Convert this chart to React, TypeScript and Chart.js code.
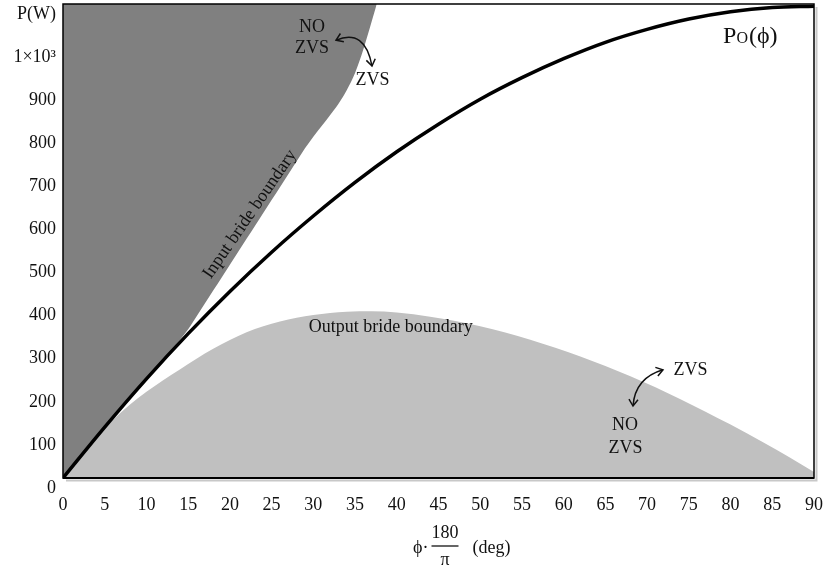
import React, { useEffect, useRef } from "react";
import { Chart, registerables } from "chart.js";

Chart.register(...registerables);

// ---- Data ----
const poPhi = [0, 5, 10, 15, 20, 25, 30, 35, 40, 45, 50, 55, 60, 65, 70, 75, 80, 85, 90];
const poPower = [0, 118, 230, 335, 433, 524, 608, 686, 757, 821, 879, 929, 973, 1011, 1041, 1065, 1082, 1092, 1095];

const inputBoundaryPhi = [0, 5, 10, 13, 14, 15, 16, 17, 18, 19, 20, 21, 22, 23, 24, 25, 26, 27, 28, 29, 30, 31, 32, 33, 34, 35, 36, 37, 37.6];
const inputBoundaryPower = [0, 121, 233, 296, 320, 345, 375, 405, 435, 465, 495, 525, 555, 585, 615, 645, 675, 705, 735, 765, 792, 817, 842, 868, 900, 940, 995, 1060, 1100];

const outputBoundaryPhi = [0, 2, 4, 6, 8, 10, 12, 14, 16, 18, 20, 22, 24, 26, 28, 30, 32, 34, 37, 40, 44, 50, 56, 62, 68, 74, 77, 80, 84, 87, 90];
const outputBoundaryPower = [0, 48, 95, 135, 170, 200, 227, 252, 277, 300, 320, 338, 352, 363, 372, 378, 383, 386, 387, 384, 374, 352, 321, 282, 236, 183, 154, 124, 82, 49, 14];

const yTickValues = [0, 100, 200, 300, 400, 500, 600, 700, 800, 900, 1000, 1100];
const yTickLabels = ["0", "100", "200", "300", "400", "500", "600", "700", "800", "900", "1×10³", "P(W)"];

const xMin = 0;
const xMax = 90;
const xStep = 5;
const yMax = 1100;

// annotations in data units: [text, phi, power]
const textNotes: [string, number, number][] = [
  ["NO", 29.84, 1047],
  ["ZVS", 29.84, 998],
  ["ZVS", 37.09, 924],
  ["Output bride boundary", 39.28, 350],
  ["ZVS", 75.2, 251],
  ["NO", 67.35, 123],
  ["ZVS", 67.41, 70],
];
// arrows: start(phi,power), control, end
const arrowNotes: [number, number, number, number, number, number][] = [
  [32.72, 1016, 36.19, 1044, 37.03, 956],
  [71.9, 251, 68.55, 232, 68.31, 167],
];
const inputLabel = { text: "Input bride boundary", phi: 22.41, power: 612, angleDeg: -55.5 };
const poLabel = { phi: 79.1, power: 1009 };

const SERIF = '"Liberation Serif", "DejaVu Serif", serif';

function toXY(xs: number[], ys: number[]) {
  return xs.map((x, i) => ({ x, y: ys[i] }));
}

function drawArrowHead(ctx: CanvasRenderingContext2D, tx: number, ty: number, fx: number, fy: number) {
  const ang = Math.atan2(ty - fy, tx - fx);
  const len = 8;
  const spread = 0.6;
  ctx.beginPath();
  ctx.moveTo(tx - len * Math.cos(ang - spread), ty - len * Math.sin(ang - spread));
  ctx.lineTo(tx, ty);
  ctx.lineTo(tx - len * Math.cos(ang + spread), ty - len * Math.sin(ang + spread));
  ctx.stroke();
}

const overlayPlugin = {
  id: "overlay",
  afterDatasetsDraw(chart: any) {
    const { ctx, chartArea: ca, scales } = chart;
    const xs = scales.x;
    const ys = scales.y;
    const px = (v: number) => xs.getPixelForValue(v);
    const py = (v: number) => ys.getPixelForValue(v);
    ctx.save();

    // frame shadow
    ctx.strokeStyle = "#c8c8c8";
    ctx.lineWidth = 2;
    ctx.beginPath();
    ctx.moveTo(ca.left + 3, ca.bottom + 2.5);
    ctx.lineTo(ca.right + 2.5, ca.bottom + 2.5);
    ctx.lineTo(ca.right + 2.5, ca.top + 3);
    ctx.stroke();

    // frame
    ctx.strokeStyle = "#000";
    ctx.lineWidth = 1.5;
    ctx.strokeRect(ca.left, ca.top, ca.right - ca.left, ca.bottom - ca.top);
    ctx.lineWidth = 2.2;
    ctx.beginPath();
    ctx.moveTo(ca.left, ca.bottom);
    ctx.lineTo(ca.right, ca.bottom);
    ctx.stroke();

    // texts
    ctx.fillStyle = "#111";
    ctx.font = `18px ${SERIF}`;
    ctx.textAlign = "center";
    ctx.textBaseline = "middle";
    textNotes.forEach(([t, a, b]) => {
      ctx.fillText(t, px(a), py(b));
    });

    // rotated input label
    ctx.save();
    ctx.translate(px(inputLabel.phi), py(inputLabel.power));
    ctx.rotate((inputLabel.angleDeg * Math.PI) / 180);
    ctx.font = `18px ${SERIF}`;
    ctx.fillText(inputLabel.text, 0, 0);
    ctx.restore();

    // P_O(phi)
    {
      const x0 = px(poLabel.phi);
      const y0 = py(poLabel.power);
      ctx.textAlign = "left";
      ctx.textBaseline = "alphabetic";
      ctx.font = `24px ${SERIF}`;
      ctx.fillText("P", x0, y0);
      const w1 = ctx.measureText("P").width;
      ctx.font = `16px ${SERIF}`;
      ctx.fillText("O", x0 + w1, y0);
      const w2 = ctx.measureText("O").width;
      ctx.font = `24px ${SERIF}`;
      ctx.fillText("(ϕ)", x0 + w1 + w2 + 1, y0);
    }

    // arrows
    ctx.strokeStyle = "#111";
    ctx.lineWidth = 1.5;
    arrowNotes.forEach(([a1, b1, a2, b2, a3, b3]) => {
      const x1 = px(a1), y1 = py(b1), cx = px(a2), cy = py(b2), x3 = px(a3), y3 = py(b3);
      ctx.beginPath();
      ctx.moveTo(x1, y1);
      ctx.quadraticCurveTo(cx, cy, x3, y3);
      ctx.stroke();
      drawArrowHead(ctx, x1, y1, cx, cy);
      drawArrowHead(ctx, x3, y3, cx, cy);
    });

    ctx.restore();
  },
  afterDraw(chart: any) {
    const { ctx, chartArea: ca } = chart;
    const cxm = (ca.left + ca.right) / 2;
    ctx.save();
    ctx.fillStyle = "#111";
    ctx.strokeStyle = "#111";
    ctx.font = `18px ${SERIF}`;
    ctx.textBaseline = "middle";
    // phi·
    ctx.textAlign = "right";
    ctx.fillText("ϕ·", cxm - 10, 548);
    // fraction
    ctx.textAlign = "center";
    ctx.fillText("180", cxm + 6.5, 533);
    ctx.fillText("π", cxm + 6.5, 560);
    ctx.lineWidth = 1.3;
    ctx.beginPath();
    ctx.moveTo(cxm - 7, 546);
    ctx.lineTo(cxm + 20, 546);
    ctx.stroke();
    ctx.textAlign = "left";
    ctx.fillText("(deg)", cxm + 34, 548);
    ctx.restore();
  },
};

export default function App() {
  const ref = useRef<HTMLCanvasElement | null>(null);
  useEffect(() => {
    if (!ref.current) return;
    const chart = new Chart(ref.current, {
      type: "line",
      data: {
        datasets: [
          {
            label: "Po",
            data: toXY(poPhi, poPower),
            borderColor: "#000",
            borderWidth: 3.5,
            pointRadius: 0,
            fill: false,
            cubicInterpolationMode: "monotone",
          },
          {
            label: "Input bridge boundary",
            data: toXY(inputBoundaryPhi, inputBoundaryPower),
            borderColor: "rgba(0,0,0,0)",
            borderWidth: 0,
            backgroundColor: "#808080",
            pointRadius: 0,
            fill: "end",
            cubicInterpolationMode: "monotone",
          },
          {
            label: "Output bridge boundary",
            data: toXY(outputBoundaryPhi, outputBoundaryPower),
            borderColor: "rgba(0,0,0,0)",
            borderWidth: 0,
            backgroundColor: "#c0c0c0",
            pointRadius: 0,
            fill: "origin",
            cubicInterpolationMode: "monotone",
          },
        ],
      },
      options: {
        animation: false,
        responsive: false,
        events: [],
        layout: { padding: { left: 0, right: 15, top: 4, bottom: 0 } },
        plugins: { legend: { display: false }, tooltip: { enabled: false } },
        scales: {
          x: {
            type: "linear",
            min: xMin,
            max: xMax,
            grid: { display: false, drawTicks: false },
            border: { display: false },
            ticks: {
              stepSize: xStep,
              autoSkip: false,
              maxRotation: 0,
              padding: 16,
              color: "#111",
              font: { family: SERIF, size: 18 },
            },
            afterFit: (s: any) => {
              s.height = 94;
              s.paddingLeft = 0;
              s.paddingRight = 0;
            },
          },
          y: {
            type: "linear",
            min: 0,
            max: yMax,
            grid: { display: false, drawTicks: false },
            border: { display: false },
            afterBuildTicks: (s: any) => {
              s.ticks = yTickValues.map((v) => ({ value: v }));
            },
            ticks: {
              autoSkip: false,
              padding: 7,
              labelOffset: 10,
              color: "#111",
              font: { family: SERIF, size: 18 },
              callback: (v: any) => {
                const i = yTickValues.indexOf(Number(v));
                return i >= 0 ? yTickLabels[i] : "";
              },
            },
            afterFit: (s: any) => {
              s.width = 63;
              s.paddingTop = 0;
              s.paddingBottom = 0;
            },
          },
        },
      },
      plugins: [overlayPlugin],
    } as any);
    return () => chart.destroy();
  }, []);
  return (
    <div style={{ position: "absolute", left: 0, top: 0, width: 829, height: 572, background: "#fff" }}>
      <canvas ref={ref} width={829} height={572} style={{ display: "block" }} />
    </div>
  );
}
